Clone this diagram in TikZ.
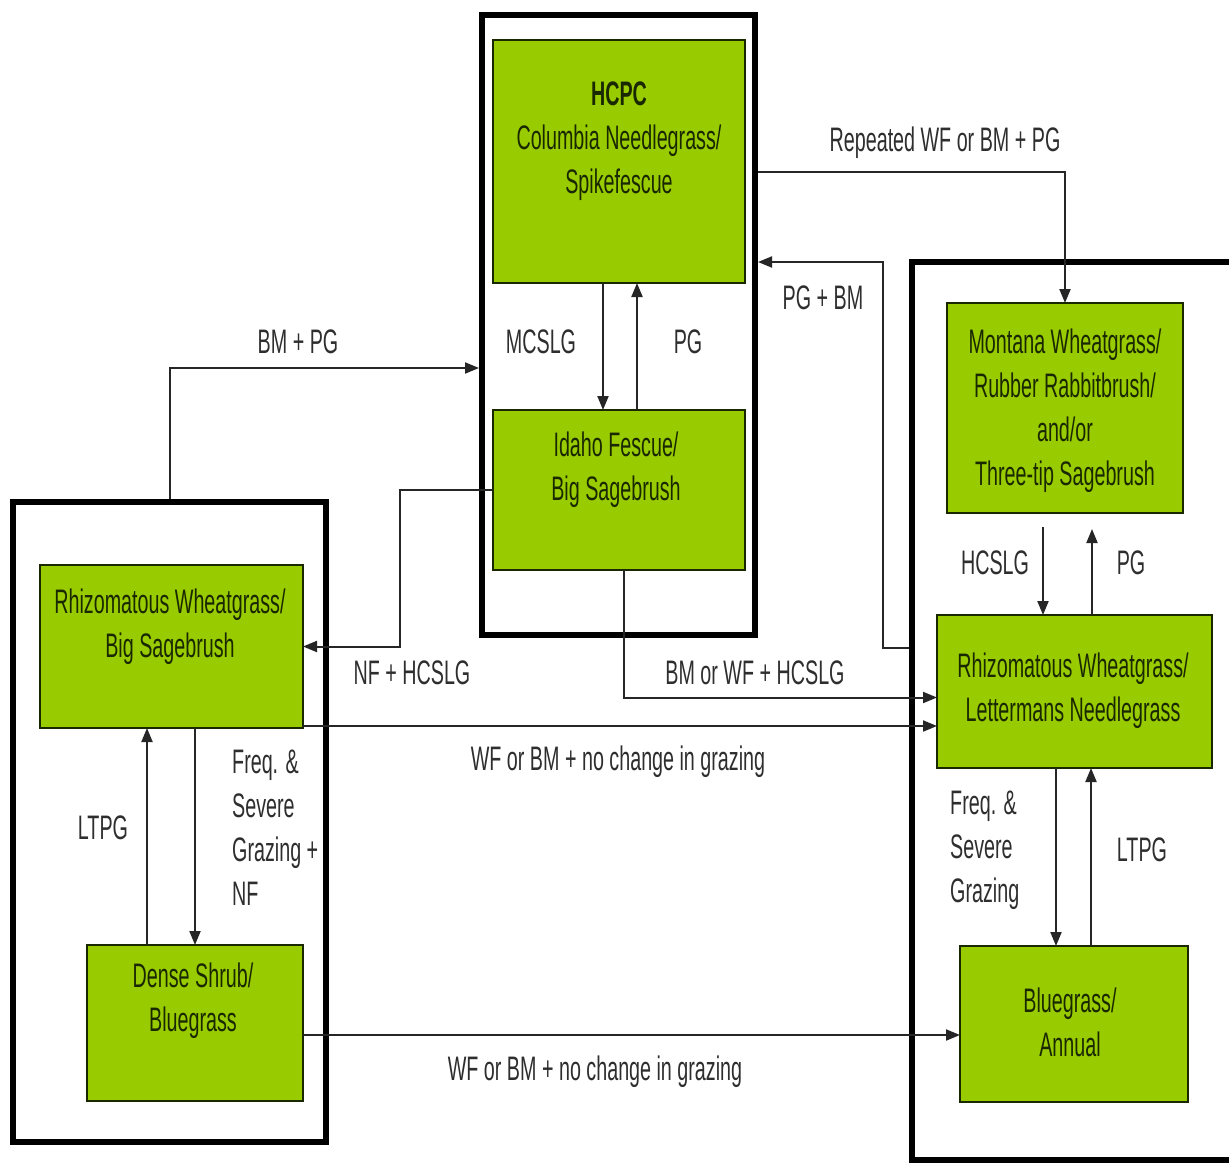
\documentclass[tikz,border=0pt]{standalone}
\usepackage{fontspec}
\setmainfont[FakeStretch=0.58]{Liberation Sans}
\usetikzlibrary{arrows.meta,calc}
\definecolor{boxgreen}{HTML}{99CC00}
\definecolor{boxtxt}{HTML}{1A2800}
\definecolor{lbl}{HTML}{2E2E2E}
\definecolor{edgec}{HTML}{262626}
\begin{document}
\begin{tikzpicture}[x=1pt,y=-1pt,
  state/.style={draw=boxtxt, line width=2.5pt, fill=boxgreen, inner sep=0pt, outer sep=0pt, rectangle},
  group/.style={draw=black, line width=6.5pt, inner sep=0pt, outer sep=3pt, rectangle},
  stxt/.style={text=boxtxt, align=center, inner sep=0pt, font=\fontsize{34}{44}\selectfont},
  lab/.style={text=lbl, inner sep=0pt, font=\fontsize{34}{44}\selectfont},
  arr/.style={draw=edgec, line width=2pt, -{Triangle[length=14pt,width=11pt]}},
  ln/.style={draw=edgec, line width=2pt}]
\useasboundingbox (0,0) rectangle (1229,1164);
\fill[white] (0,0) rectangle (1229,1164);
\clip (0,0) rectangle (1229,1164);

% group boxes
\node[group, minimum width=273pt, minimum height=620pt] (outC) at (618.5,325) {};
\node[group, minimum width=313pt, minimum height=640pt] (outL) at (169.5,822) {};
\node[group, minimum width=328pt, minimum height=898pt] (outR) at (1076,711) {};

% states
\node[state, minimum width=252pt, minimum height=243pt] (hcpc) at (619,161.5) {};
\node[state, minimum width=252pt, minimum height=160pt] (idaho) at (619,490) {};
\node[state, minimum width=263pt, minimum height=163pt] (rbs) at (171.5,646.5) {};
\node[state, minimum width=216pt, minimum height=156pt] (dsb) at (195,1023) {};
\node[state, minimum width=236pt, minimum height=210pt] (mon) at (1065,408) {};
\node[state, minimum width=275pt, minimum height=153pt] (rln) at (1074.5,691.5) {};
\node[state, minimum width=228pt, minimum height=156pt] (bga) at (1074,1024) {};

% state texts
\node[stxt] (hcpcT) at (619,141) {{\bfseries HCPC}\\Columbia Needlegrass/\\Spikefescue};
\node[stxt] (idahoT) at (616,470) {Idaho Fescue/\\Big Sagebrush};
\node[stxt] (rbsT) at (170,627) {Rhizomatous Wheatgrass/\\Big Sagebrush};
\node[stxt] (dsbT) at (193,1001) {Dense Shrub/\\Bluegrass};
\node[stxt] (monT) at (1065,411) {Montana Wheatgrass/\\Rubber Rabbitbrush/\\and/or\\Three-tip Sagebrush};
\node[stxt] (rlnT) at (1073,691) {Rhizomatous Wheatgrass/\\Lettermans Needlegrass};
\node[stxt] (bgaT) at (1070,1022) {Bluegrass/\\Annual};

% connectors
\draw[arr] ([xshift=-16pt]hcpc.south) -- ([xshift=-16pt]idaho.north);
\draw[arr] ([xshift=18pt]idaho.north) -- ([xshift=18pt]hcpc.south);
\draw[arr] ($(outC.east |- hcpc.east)+(0,10)$) -| (mon.north);
\coordinate (pgbmBend) at (883,262);
\draw[arr] ($(outR.west |- rln.north)+(0,33)$) -| (pgbmBend) -- (pgbmBend -| outC.east);
\draw[arr] (outL.north) |- ($(outC.west)+(0,43)$);
\draw[arr] (idaho.west) -- ++(-93,0) |- (rbs.east);
\draw[arr] ([xshift=5pt]idaho.south) |- ($(rln.west)+(0,6)$);
\coordinate (wfA) at ($(rbs.south east)+(0,-2)$);
\draw[arr] (wfA) -- (wfA -| rln.west);
\draw[arr] (rbs.south -| dsb.north) -- (dsb.north);
\draw[arr] ([xshift=-48pt]dsb.north) -- ([xshift=-48pt]dsb.north |- rbs.south);
\coordinate (wfB) at ($(dsb.east)+(0,12)$);
\draw[arr] (wfB) -- (wfB -| bga.west);
\draw[arr, shorten <=14pt] ([xshift=-22pt]mon.south) -- ([xshift=-22pt]mon.south |- rln.north);
\draw[arr, shorten >=16pt] ([xshift=27pt]mon.south |- rln.north) -- ([xshift=27pt]mon.south);
\draw[arr] ([xshift=-18pt]bga.north |- rln.south) -- ([xshift=-18pt]bga.north);
\draw[arr] ([xshift=17pt]bga.north) -- ([xshift=17pt]bga.north |- rln.south);

% labels
\node[lab] (l1) at (298,342) {BM + PG};
\node[lab] (l2) at (541,342) {MCSLG};
\node[lab] (l3) at (688,342) {PG};
\node[lab] (l4) at (945,143) {Repeated WF or BM + PG};
\node[lab] (l5) at (823,298) {PG + BM};
\node[lab] (l6) at (995,563) {HCSLG};
\node[lab] (l7) at (1131,563) {PG};
\node[lab] (l8) at (412,673) {NF + HCSLG};
\node[lab] (l9) at (755,673) {BM or WF + HCSLG};
\node[lab] (l10) at (618,762) {WF or BM + no change in grazing};
\node[lab] (l11) at (103,828) {LTPG};
\node[lab, align=left, anchor=west] (l12) at (232,828) {Freq. \&\\Severe\\Grazing +\\NF};
\node[lab, align=left, anchor=west] (l13) at (950,850) {Freq. \&\\Severe\\Grazing};
\node[lab] (l14) at (1142,850) {LTPG};
\node[lab] (l15) at (595,1072) {WF or BM + no change in grazing};
\end{tikzpicture}
\end{document}
